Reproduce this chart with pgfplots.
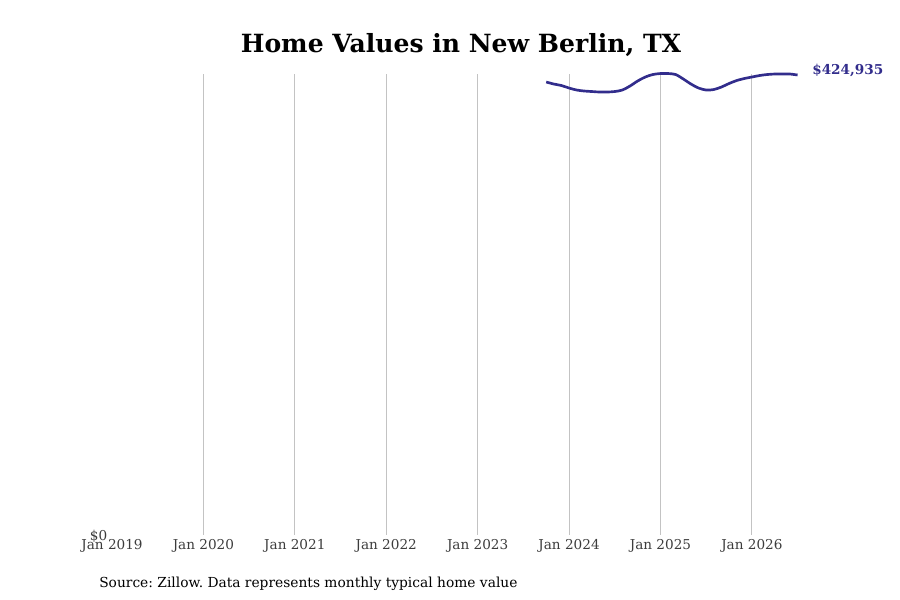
\documentclass[border=0pt]{standalone}
\usepackage{pgfplots}
\pgfplotsset{compat=1.18}
\usepackage{fontspec}
\setmainfont{DejaVu Serif}
\definecolor{linec}{RGB}{50,45,140}
\definecolor{gridc}{RGB}{195,195,195}
\definecolor{tickc}{RGB}{60,60,60}
\begin{document}
\frenchspacing
\begin{tikzpicture}
\begin{axis}[
  scale only axis, width=522.75pt, height=346.1pt,
  xmin=0, xmax=91.5, ymin=0, ymax=426320,
  scaled y ticks=false,
  axis line style={draw=none},
  major tick length=0pt,
  xtick={12,24,36,48,60,72,84},
  xticklabels={Jan 2020,Jan 2021,Jan 2022,Jan 2023,Jan 2024,Jan 2025,Jan 2026},
  extra x ticks={0}, extra x tick labels={Jan 2019},
  extra x tick style={grid=none},
  xmajorgrids, grid style={gridc, line width=0.6pt},
  ytick={0}, yticklabels={\$0},
  ticklabel style={font=\fontsize{10.2}{12}\selectfont, text=tickc},
  xticklabel style={yshift=0.2pt},
  yticklabel style={xshift=0pt, yshift=-1pt},
  clip=false,
]
\addplot[linec, line width=2pt, smooth, tension=0.5] coordinates {
(57,418468) (58,416620) (59,415234) (60,412925) (61,411078) (62,410154)
(63,409692) (64,409230) (65,409230) (66,409692) (67,411078) (68,414773)
(69,419392) (70,423087) (71,425396) (72,426320) (73,426320) (74,425396)
(75,421239) (76,416620) (77,412925) (78,411078) (79,411540) (80,413849)
(81,417083) (82,419854) (83,421702) (84,423087) (85,424472) (86,425396)
(87,425858) (88,425858) (89,425858) (90,424935)
};
\node[anchor=west, font=\fontsize{10.2}{12}\selectfont\bfseries, text=linec, xshift=7.5pt, yshift=3.8pt] at (axis cs:90,424935) {\$424,935};
\coordinate (bl) at (rel axis cs:0,0);
\end{axis}
\useasboundingbox ([shift={(-84pt,-48.75pt)}]bl) rectangle ([shift={(591pt,401.25pt)}]bl);
\node[font=\fontsize{18.8}{22}\selectfont\bfseries] at ([shift={(261.75pt,367.5pt)}]bl) {Home Values in New Berlin, TX};
\node[anchor=west, inner sep=0pt, font=\fontsize{10.35}{12}\selectfont] at ([shift={(-9.75pt,-36.6pt)}]bl) {Source: Zillow. Data represents monthly typical home value};
\end{tikzpicture}
\end{document}
